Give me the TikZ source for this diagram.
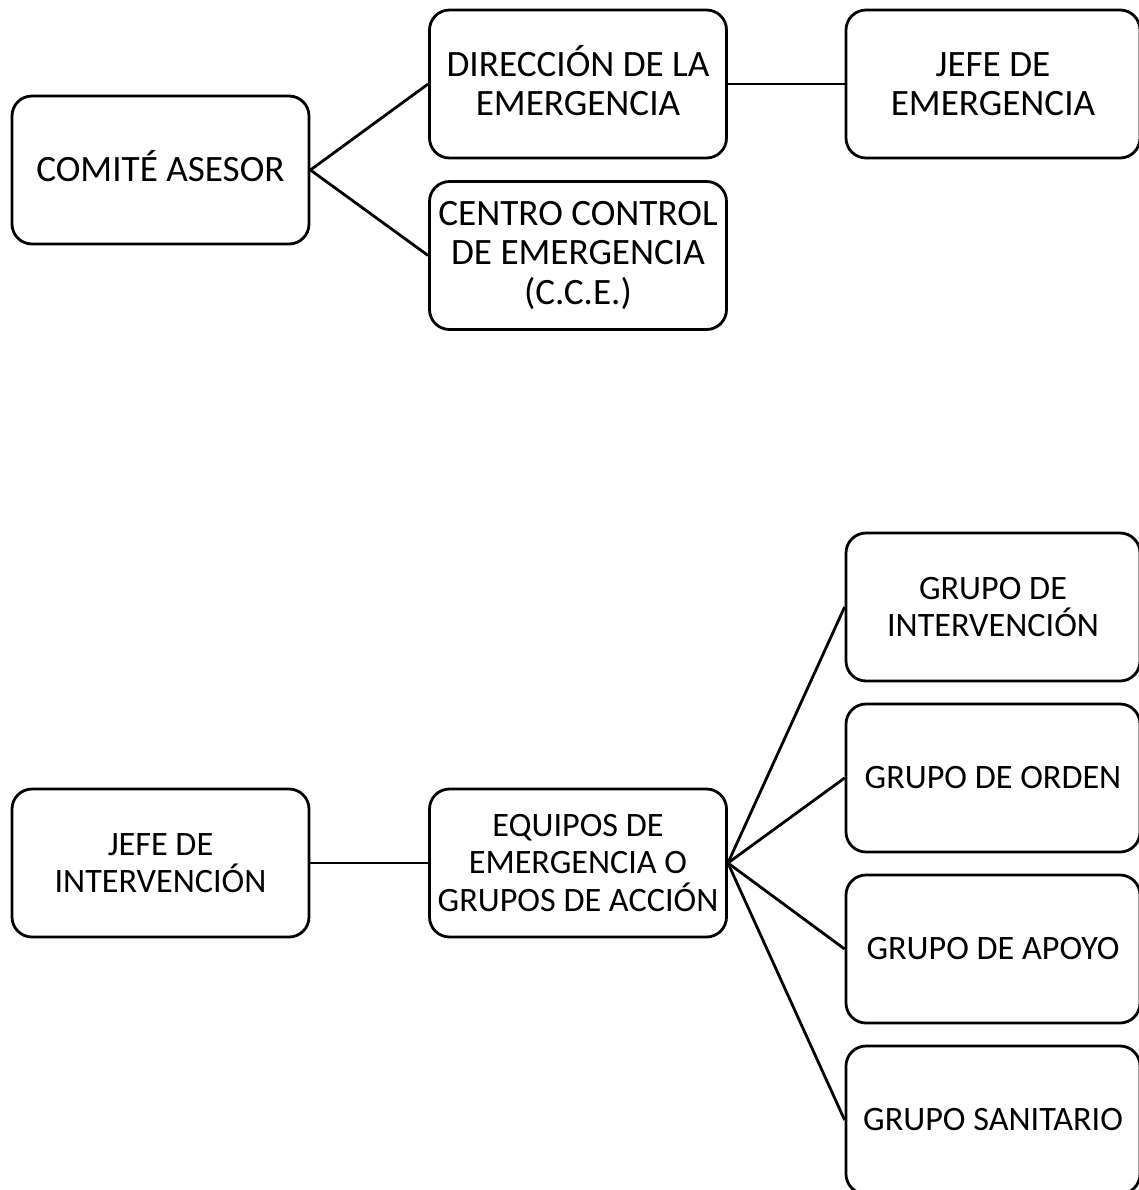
\documentclass[tikz,border=0pt]{standalone}
\usepackage{fontspec}
\setmainfont{Carlito}
\begin{document}
\begin{tikzpicture}[x=1pt,y=1pt,
  box/.style={draw=black,line width=2.8pt,rounded corners=20pt,fill=white,
    minimum width=297pt,minimum height=148pt,align=center,inner sep=1pt,
    font=\fontsize{37.2pt}{39.5pt}\selectfont},
  lbox/.style={box,font=\fontsize{34.2pt}{37.5pt}\selectfont},
  rbox/.style={box,minimum width=294pt},
  rlbox/.style={lbox,minimum width=294pt},
  link/.style={line width=2.8pt}]
\useasboundingbox (0,0) rectangle (1138,-1190);
% top
\node[box] (comite) at (160.5,-170) {\smash{COMITÉ} ASESOR};
\node[box] (direccion) at (578,-84) {\smash{DIRECCIÓN} DE LA\\EMERGENCIA};
\node[box] (centro) at (578,-255.5) {CENTRO CONTROL\\DE EMERGENCIA\\(C.C.E.)};
\node[rbox] (jefeem) at (993,-84) {JEFE DE\\EMERGENCIA};
\draw[link] (comite.east) -- (direccion.west);
\draw[link] (comite.east) -- (centro.west);
\draw[link] (direccion.east) -- (jefeem.west);
% bottom
\node[lbox] (jefeint) at (160.5,-863) {JEFE DE\\INTERVENCIÓN};
\node[lbox] (equipos) at (578,-863) {EQUIPOS DE\\EMERGENCIA O\\GRUPOS DE ACCIÓN};
\node[rlbox] (gint) at (993,-607) {GRUPO DE\\INTERVENCIÓN};
\node[rlbox] (gord) at (993,-778) {GRUPO DE ORDEN};
\node[rlbox] (gapo) at (993,-949) {GRUPO DE APOYO};
\node[rlbox] (gsan) at (993,-1120) {GRUPO SANITARIO};
\draw[link] (jefeint.east) -- (equipos.west);
\draw[link] (equipos.east) -- (gint.west);
\draw[link] (equipos.east) -- (gord.west);
\draw[link] (equipos.east) -- (gapo.west);
\draw[link] (equipos.east) -- (gsan.west);
\end{tikzpicture}
\end{document}
